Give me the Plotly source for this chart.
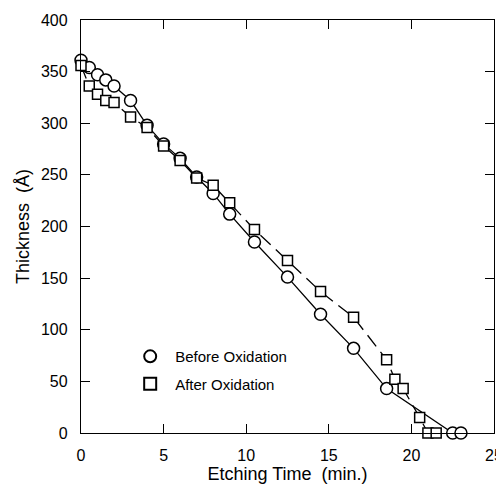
import plotly.graph_objects as go

before_t = [0, 0.5, 1, 1.5, 2, 3, 4, 5, 6, 7, 8, 9, 10.5, 12.5, 14.5, 16.5, 18.5, 22.5, 23]
before_v = [361, 354, 347, 342, 336, 322, 298, 280, 266, 248, 232, 212, 185, 151, 115, 82, 43, 0, 0]

after_t = [0, 0.5, 1, 1.5, 2, 3, 4, 5, 6, 7, 8, 9, 10.5, 12.5, 14.5, 16.5, 18.5, 19, 19.5, 20.5, 21, 21.5]
after_v = [356, 336, 328, 322, 320, 306, 296, 278, 264, 247, 240, 223, 197, 167, 137, 112, 71, 52, 43, 15, 0, 0]

x_ticks = [0, 5, 10, 15, 20, 25]
y_ticks = [0, 50, 100, 150, 200, 250, 300, 350, 400]

FONT = "Liberation Sans, Arial, sans-serif"

fig = go.Figure()
fig.add_trace(go.Scatter(x=before_t, y=before_v, mode="lines", showlegend=False,
                         line=dict(color="black", width=1.3), hoverinfo="skip"))
fig.add_trace(go.Scatter(x=after_t, y=after_v, mode="lines", showlegend=False,
                         line=dict(color="black", width=1.3, dash="14px,7px"), hoverinfo="skip"))
fig.add_trace(go.Scatter(x=before_t, y=before_v, mode="markers", name="Before Oxidation",
                         legendgroup="b",
                         marker=dict(symbol="circle", size=12, color="white",
                                     line=dict(color="black", width=1.5)),
                         cliponaxis=False))
fig.add_trace(go.Scatter(x=after_t, y=after_v, mode="markers", name="After Oxidation",
                         legendgroup="a",
                         marker=dict(symbol="square", size=10, color="white",
                                     line=dict(color="black", width=1.5)),
                         cliponaxis=False))

axis_common = dict(showgrid=False, zeroline=False, showline=True, linecolor="black",
                   linewidth=1.4, mirror="ticks", ticks="inside", ticklen=9,
                   tickcolor="black", tickwidth=1.4, ticklabeloverflow="allow",
                   tickfont=dict(family=FONT, size=16, color="black"))

fig.update_xaxes(range=[0, 25], tickvals=x_ticks, ticktext=[str(v) for v in x_ticks],
                 ticklabelstandoff=8,
                 title=dict(text="Etching Time  (min.)", font=dict(family=FONT, size=18, color="black"), standoff=8),
                 **axis_common)
fig.update_yaxes(range=[0, 400], tickvals=y_ticks, ticktext=[str(v) for v in y_ticks],
                 ticklabelstandoff=9,
                 title=dict(text="Thickness  (Å)", font=dict(family=FONT, size=18, color="black"), standoff=6),
                 **axis_common)

# page body has an 8px margin, so the figure is sized/offset to compensate
fig.update_layout(
    width=496, height=476,
    margin=dict(l=73, r=10, t=12, b=51, autoexpand=False),
    plot_bgcolor="white", paper_bgcolor="white",
    showlegend=True,
    legend=dict(x=0.107, y=0.225, xanchor="left", yanchor="top",
                bgcolor="rgba(0,0,0,0)", itemsizing="constant",
                font=dict(family=FONT, size=15, color="black"),
                tracegroupgap=5, itemwidth=40),
)

fig.write_html("out.html")
